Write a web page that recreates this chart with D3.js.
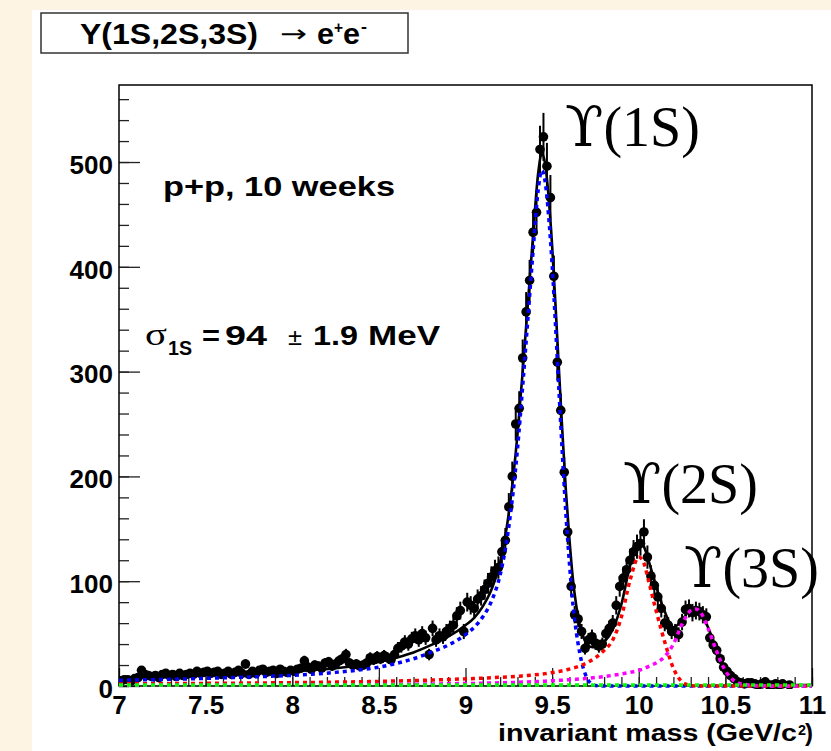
<!DOCTYPE html>
<html>
<head>
<meta charset="utf-8">
<script src="https://cdn.jsdelivr.net/npm/d3@7"></script>
<style>
  body { margin: 0; background: #fdf4e3; }
  svg { display: block; font-family: "Liberation Sans", Arial, Helvetica, sans-serif; }
</style>
</head>
<body>
<svg id="chart" width="831" height="751"></svg>
<script>
// histogram: 200 bins of 20 MeV from 7 to 11 GeV
const histLow = 7.0, binWidth = 0.02;
const counts = [
   5,  6,  6,  5,  7,  8, 15, 11, 10,  9,
  10,  8, 11, 12, 10, 11,  9, 12, 10, 11,
  12, 11, 14, 12, 13, 14, 12, 13, 14, 11,
  12, 14, 11, 13, 15, 12, 21, 11, 14, 12,
  15, 16, 13, 14, 15, 12, 16, 14, 13, 15,
  14, 16, 17, 24, 18, 16, 20, 19, 17, 22,
  23, 19, 21, 24, 26, 30, 22, 20, 21, 19,
  20, 22, 27, 25, 28, 26, 29, 27, 25, 30,
  36, 38, 42, 40, 45, 48, 44, 50, 46, 30,
  55, 44, 48, 47, 52, 55, 58, 67, 72, 52,
  80, 77, 74, 83, 86, 92, 98,104,110,113,
 128,139,171,200,250,265,313,357,387,433,
 452,512,524,496,466,391,309,263,204,147,
  95, 68, 64, 52, 36, 44, 47, 41, 38, 40,
  50, 55, 60, 77, 95,103,111,120,128,133,
 136,147,123,105, 96, 85, 74, 60, 58, 52,
  52, 49, 61, 73, 74, 70, 72, 71, 68, 66,
  46, 39, 34, 26, 18, 14, 10,  7,  4,  3,
   2,  3,  3,  2,  1,  2,  4,  1,  1,  2,
   1,  2,  0,  1,  0,  0,  0,  0,  0,  0
];

// fit curves
const fitMass  = [7.0, 7.25, 7.5, 7.75, 8.0, 8.25, 8.5, 8.6, 8.7, 8.8, 8.9, 9.0, 9.05, 9.1, 9.15, 9.2, 9.25, 9.3, 9.33, 9.36, 9.39, 9.42, 9.44, 9.46, 9.48, 9.5, 9.52, 9.54, 9.56, 9.58, 9.6, 9.62, 9.64, 9.66, 9.68, 9.7, 9.72, 9.75, 9.8, 9.85, 9.9, 9.95, 10.0, 10.03, 10.06, 10.1, 10.15, 10.2, 10.25, 10.3, 10.33, 10.36, 10.4, 10.45, 10.5, 10.55, 10.6, 10.7, 10.8, 11.0];
const fitTotal = [7, 8.5, 10.5, 12, 14, 17, 23, 27, 32, 39, 47, 58, 65, 76, 92, 118, 165, 240, 300, 365, 430, 490, 508, 498, 466, 420, 362, 300, 240, 185, 140, 102, 76, 58, 47, 40, 37.5, 37, 42, 54, 78, 115, 138, 133, 118, 95, 71, 56, 63, 73, 74, 70, 56, 34, 15, 5.5, 2.5, 1.5, 1, 1];
const fit1S    = [5.5, 6.2, 7.3, 8.6, 10.2, 13, 18, 21.5, 26, 32, 39, 49, 56, 66, 81, 106, 152, 226, 286, 350, 415, 474, 492, 481, 448, 402, 343, 280, 219, 163, 117, 78, 51, 31, 17, 8, 3, 0.5, 0, 0, 0, 0, 0, 0, 0, 0, 0, 0, 0, 0, 0, 0, 0, 0, 0, 0, 0, 0, 0, 0];
const fit2S    = [2.0, 2.2, 2.5, 2.8, 3.2, 3.7, 4.4, 4.8, 5.2, 5.7, 6.2, 6.8, 7.1, 7.5, 7.9, 8.3, 8.8, 9.3, 9.7, 10.1, 10.5, 11.0, 11.4, 11.8, 12.3, 12.8, 13.3, 13.9, 14.6, 15.3, 16.1, 17.0, 18.0, 19.2, 20.5, 22, 23.8, 27, 34, 44, 66, 101, 123, 117, 98, 72, 42, 17, 4, 0.5, 0, 0, 0, 0, 0, 0, 0, 0, 0, 0];
const fit3S    = [0.6, 0.7, 0.8, 0.9, 1.0, 1.2, 1.4, 1.5, 1.7, 1.9, 2.1, 2.4, 2.5, 2.7, 2.9, 3.1, 3.3, 3.5, 3.7, 3.9, 4.1, 4.3, 4.5, 4.6, 4.8, 5.0, 5.2, 5.4, 5.6, 5.8, 6.0, 6.2, 6.4, 6.7, 7.0, 7.3, 7.6, 8.1, 9.0, 10.2, 11.5, 13, 15, 16.5, 19, 22, 28, 40, 59, 72, 73.5, 69.5, 55, 33, 14.5, 5, 1.8, 0.3, 0, 0];
const fitBkg   = [1, 1, 1, 1, 1, 1, 1, 1, 1, 1, 1, 1, 1, 1, 1, 1, 1, 1, 1, 1, 1, 1, 1, 1, 1, 1, 1, 1, 1, 1, 1, 1, 1, 1, 1, 1, 1, 1, 1, 1, 1, 1, 1, 1, 1, 1, 1, 1, 1, 1, 1, 1, 1, 1, 1, 1, 1, 1, 1, 1];

const xMajor = [7, 7.5, 8, 8.5, 9, 9.5, 10, 10.5, 11];
const yMajor = [0, 100, 200, 300, 400, 500];
const peakLabels = [
  {name: "(1S)", x: 565, y: 146},
  {name: "(2S)", x: 623, y: 503},
  {name: "(3S)", x: 684, y: 587}
];

const frame = {left: 119, right: 812, top: 85, bottom: 686};

const svg = d3.select("#chart");
svg.append("rect").attr("x", 32).attr("y", 10).attr("width", 799).attr("height", 741).attr("fill", "#fff");

const x = d3.scaleLinear().domain([7, 11]).range([frame.left, frame.right]);
const y = d3.scaleLinear().domain([0, 573.5]).range([frame.bottom, frame.top]);

// clip a little below the x axis so the flat background line shows
svg.append("clipPath").attr("id", "plotclip")
  .append("rect").attr("x", frame.left).attr("y", frame.top)
  .attr("width", frame.right - frame.left).attr("height", frame.bottom - frame.top + 3);

// axes, ticks pointing into the frame
const xMinorAxis = d3.axisBottom(x).tickValues(x.ticks(40)).tickSize(-9).tickFormat("");
const xAxis = d3.axisBottom(x).tickValues(xMajor).tickSize(-18).tickPadding(10).tickFormat(d3.format("~g"));
const yMinorAxis = d3.axisLeft(y).tickValues(y.ticks(30)).tickSize(-10).tickFormat("");
const yAxis = d3.axisLeft(y).tickValues(yMajor).tickSize(-21).tickPadding(6);

[[xMinorAxis, "x"], [xAxis, "x"], [yMinorAxis, "y"], [yAxis, "y"]].forEach(([ax, k]) => {
  const g = svg.append("g")
    .attr("transform", k === "x" ? `translate(0,${frame.bottom})` : `translate(${frame.left},0)`)
    .call(ax);
  g.select(".domain").remove();
  g.selectAll("line").attr("stroke", "#222").attr("stroke-width", 1.3);
  g.selectAll("text")
    .attr("font-family", "Liberation Sans, Arial, sans-serif")
    .attr("font-size", 26).attr("font-weight", "bold").attr("fill", "#000");
  if (k === "y") g.selectAll("text").attr("dy", "0.43em");
});

svg.append("rect")
  .attr("x", frame.left).attr("y", frame.top)
  .attr("width", frame.right - frame.left).attr("height", frame.bottom - frame.top)
  .attr("fill", "none").attr("stroke", "#000").attr("stroke-width", 1.5);

// data points
const pts = counts.map((c, i) => ({m: histLow + binWidth * (i + 0.5), c})).filter(d => d.c > 0);
const plot = svg.append("g").attr("clip-path", "url(#plotclip)");

plot.selectAll(".err").data(pts).enter().append("line")
  .attr("x1", d => x(d.m)).attr("x2", d => x(d.m))
  .attr("y1", d => y(d.c - Math.sqrt(d.c))).attr("y2", d => y(d.c + Math.sqrt(d.c)))
  .attr("stroke", "#000").attr("stroke-width", 2);

plot.selectAll(".pt").data(pts).enter().append("circle")
  .attr("cx", d => x(d.m)).attr("cy", d => y(d.c)).attr("r", 4.8)
  .attr("fill", "#000");

// fit curves
const line = vals => d3.line().x((d, i) => x(fitMass[i])).y(d => y(d)).curve(d3.curveMonotoneX)(vals);
plot.append("path").attr("d", line(fitTotal))
  .attr("fill", "none").attr("stroke", "#000").attr("stroke-width", 2.6);
[[fit1S, "#0000ff"], [fit2S, "#ff0000"], [fit3S, "#ff00ff"], [fitBkg, "#00ff00"]].forEach(([vals, col]) => {
  plot.append("path").attr("d", line(vals))
    .attr("fill", "none").attr("stroke", col).attr("stroke-width", 3.5)
    .attr("stroke-dasharray", "4,4");
});

// text helper; in-plot text is rendered a bit wider than the font
function txt(xp, yp, s, size, opts = {}) {
  const t = svg.append("text").attr("x", xp).attr("y", yp).text(s)
    .attr("font-size", size)
    .attr("font-weight", opts.weight || "bold")
    .attr("font-family", opts.family || "Liberation Sans, Arial, sans-serif")
    .attr("fill", "#000");
  if (opts.width) t.attr("textLength", opts.width).attr("lengthAdjust", "spacingAndGlyphs");
  if (opts.anchor) t.attr("text-anchor", opts.anchor);
  return t;
}

// title box
svg.append("rect").attr("x", 41).attr("y", 13).attr("width", 367).attr("height", 40)
  .attr("fill", "#fff").attr("stroke", "#333").attr("stroke-width", 1.5);
txt(80, 44, "Y(1S,2S,3S)", 29, {width: 178});
txt(280, 42, "\u2192", 24, {weight: "normal", family: "DejaVu Sans, sans-serif", width: 27});
txt(317, 44, "e", 29, {width: 17});
txt(334, 33, "+", 17, {width: 9});
txt(343, 44, "e", 29, {width: 17});
txt(361, 32, "-", 17, {width: 6});

txt(163, 196, "p+p, 10 weeks", 28, {width: 232});

// sigma line
txt(145, 345, "\u03c3", 32, {weight: "normal", family: "Liberation Serif, serif", width: 22});
txt(168, 355, "1S", 21, {width: 24});
txt(202, 345, "=", 28, {width: 18});
txt(225, 345, "94", 28, {width: 42});
txt(288, 345, "\u00b1", 24, {weight: "normal", width: 14});
txt(313, 345, "1.9", 28, {width: 45});
txt(368, 345, "MeV", 28, {width: 72});

// peak labels
peakLabels.forEach(p => {
  const t = svg.append("text").attr("x", p.x).attr("y", p.y)
    .attr("font-size", 56).attr("fill", "#000");
  t.append("tspan").attr("font-family", "DejaVu Serif, serif").text("\u03d2");
  t.append("tspan").attr("font-family", "Liberation Serif, serif").text(p.name);
});

// axis title
txt(498, 741, "invariant mass (GeV/c", 23, {width: 299});
txt(798, 735, "2", 14, {width: 8});
txt(805, 741, ")", 23, {width: 8});
</script>
</body>
</html>
